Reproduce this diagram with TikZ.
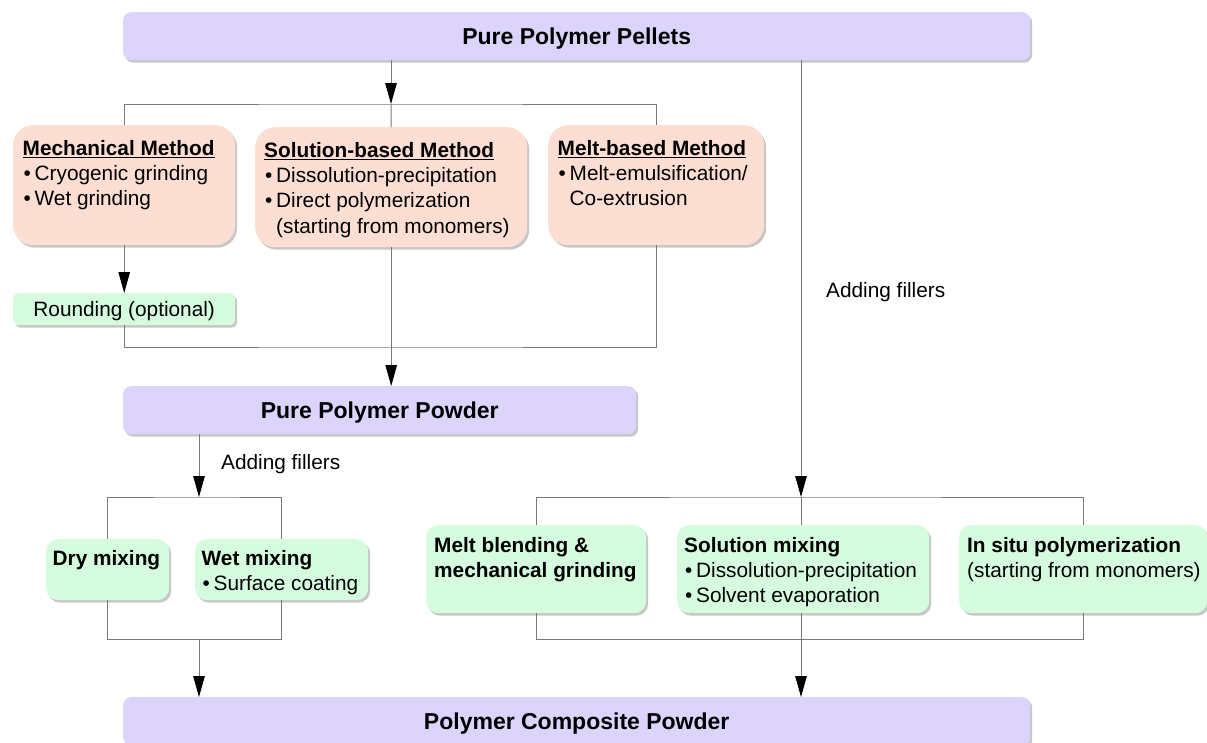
\documentclass[tikz,border=0pt]{standalone}
\usepackage{fontspec}
\setmainfont{Liberation Sans}
\usetikzlibrary{arrows.meta,shadows,calc}
\definecolor{lav}{HTML}{DCD4FB}
\definecolor{peach}{HTML}{FDDED3}
\definecolor{mint}{HTML}{D5FCDF}
\definecolor{wirecol}{HTML}{7A7A7A}
% underlined bold heading with a hand-set rule
\newcommand\headline[1]{\setbox0\hbox{\bfseries #1}\rlap{\rule[-3pt]{\wd0}{1.3pt}}\box0}
\newcommand\bul{\makebox[12pt][l]{\hspace*{1pt}\textbullet}}
\newcommand\ind{\hspace*{12pt}}
\begin{document}
\begin{tikzpicture}[x=1pt,y=-1pt,
  shade/.style={drop shadow={shadow xshift=2pt,shadow yshift=-2.5pt,opacity=0.22,fill=black}},
  stagebox/.style={fill=lav,rounded corners=8pt,shade,anchor=north west,inner sep=0pt,
    font=\fontsize{23}{27}\selectfont\bfseries,text depth=0pt},
  methbox/.style={fill=peach,rounded corners=20pt,shade,anchor=north west,inner sep=0pt},
  mixbox/.style={fill=mint,rounded corners=12pt,shade,anchor=north west,inner sep=0pt},
  body/.style={anchor=base west,inner sep=0pt,font=\fontsize{20.8}{25.4}\selectfont},
  wire/.style={draw=wirecol,line width=1pt},
  flow/.style={draw=wirecol,line width=1pt,-{Triangle[length=21pt,width=11.5pt,black]}},
]
\useasboundingbox (0,0) rectangle (1207,742);

% ---- stages
\node[stagebox,minimum width=907pt,minimum height=48pt] (pel) at (123,12) {Pure Polymer Pellets};
\node[stagebox,minimum width=513pt,minimum height=48pt] (ppp) at (123,386) {Pure Polymer Powder};
\node[stagebox,minimum width=907pt,minimum height=48pt] (comp) at (123,697) {Polymer Composite Powder};

% ---- powder production methods
\node[methbox,minimum width=222pt,minimum height=120pt] (mech) at (13,125) {};
\node[methbox,minimum width=272pt,minimum height=120pt] (sol) at (255,127) {};
\node[methbox,minimum width=216pt,minimum height=120pt] (melt) at (548,125) {};
\node[body] (mechT) at (22.5,155) {\begin{tabular}[t]{@{}l@{}}\headline{Mechanical Method}\\ \bul Cryogenic grinding\\ \bul Wet grinding\end{tabular}};
\node[body] (solT) at (264,157) {\begin{tabular}[t]{@{}l@{}}\headline{Solution-based Method}\\ \bul Dissolution-precipitation\\ \bul Direct polymerization\\ \ind(starting from monomers)\end{tabular}};
\node[body] (meltT) at (557.5,155) {\begin{tabular}[t]{@{}l@{}}\headline{Melt-based Method}\\ \bul Melt-emulsification/\\ \ind Co-extrusion\end{tabular}};

\node[mixbox,rounded corners=6pt,minimum width=222pt,minimum height=32pt,
  font=\fontsize{20.8}{25.4}\selectfont,text depth=0pt] (round) at (13,293) {Rounding (optional)};

% ---- filler incorporation routes
\node[mixbox,minimum width=123pt,minimum height=61pt] (dry) at (46,539) {};
\node[mixbox,minimum width=173pt,minimum height=61pt] (wet) at (195,539) {};
\node[body] (dryT) at (52.5,565) {\bfseries Dry mixing};
\node[body] (wetT) at (201.5,565) {\begin{tabular}[t]{@{}l@{}}\bfseries Wet mixing\\ \bul Surface coating\end{tabular}};

\node[mixbox,minimum width=220pt,minimum height=88pt] (mb) at (426,525) {};
\node[mixbox,minimum width=252pt,minimum height=88pt] (sm) at (677,525) {};
\node[mixbox,minimum width=248pt,minimum height=88pt] (insitu) at (959,525) {};
\node[body] (mbT) at (434,552) {\begin{tabular}[t]{@{}l@{}}\bfseries Melt blending \&\\ \bfseries mechanical grinding\end{tabular}};
\node[body] (smT) at (684,552) {\begin{tabular}[t]{@{}l@{}}\bfseries Solution mixing\\ \bul Dissolution-precipitation\\ \bul Solvent evaporation\end{tabular}};
\node[body] (insituT) at (967,552) {\begin{tabular}[t]{@{}l@{}}\bfseries In situ polymerization\\ (starting from monomers)\end{tabular}};

% ---- connectors: pellets to methods
\coordinate (split1) at (391,104);
\draw[flow] (pel.south -| split1) -- (split1);
\draw[wire] (mech.north) |- (split1) -| (melt.north);
\draw[wire] (split1) -- (sol.north);
\draw[flow] (mech.south) -- (round.north);
\coordinate (join1) at (391,347);
\draw[wire] (round.south) |- (join1) -| (melt.south);
\draw[flow] (sol.south) -- (sol.south |- ppp.north);

% ---- powder to composite (left branch)
\coordinate (split2) at (199,497);
\draw[flow] (ppp.south -| split2) -- (split2);
\node[body] (fill1) at (221,469) {Adding fillers};
\draw[wire] (dry.north) |- (split2) -| (wet.north);
\coordinate (join2) at (199,639);
\draw[wire] (dry.south) |- (join2) -| (wet.south);
\draw[flow] (join2) -- (join2 |- comp.north);

% ---- pellets to composite (right branch)
\coordinate (split3) at (801,497);
\draw[flow] (pel.south -| split3) -- (split3);
\node[body] (fill2) at (826,297) {Adding fillers};
\draw[wire] (mb.north) |- (split3) -| (insitu.north);
\draw[wire] (split3) -- (sm.north -| split3);
\coordinate (join3) at (801,639);
\draw[wire] (mb.south) |- (join3) -| (insitu.south);
\draw[wire] (sm.south -| join3) -- (join3);
\draw[flow] (join3) -- (join3 |- comp.north);
\end{tikzpicture}
\end{document}
